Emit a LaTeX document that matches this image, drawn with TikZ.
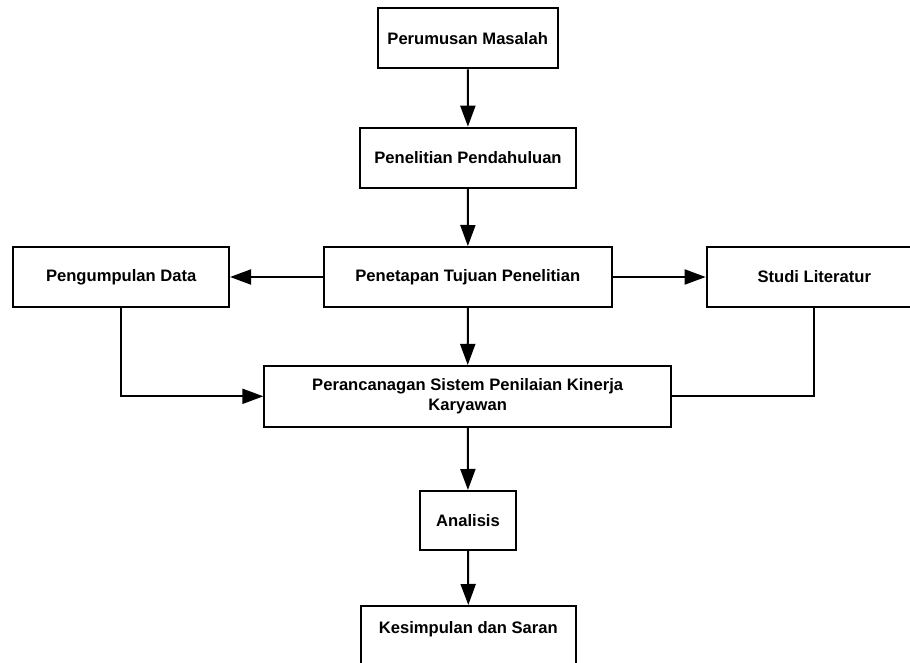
\documentclass[tikz,border=0pt]{standalone}
\usepackage{fontspec}
\setmainfont{Liberation Sans}
\usetikzlibrary{arrows.meta}

\begin{document}
\begin{tikzpicture}[x=1pt,y=-1pt,
			box/.style={draw,line width=2pt,minimum height=60pt,inner sep=0pt,
				font=\fontsize{16.6}{20}\selectfont\bfseries,align=center},
			line/.style={line width=2pt},
			arr/.style={line,-{Triangle[length=21pt,width=15pt]}}]
			\clip (0,0) rectangle (910,663);
			\node[box,minimum width=180pt] (masalah) at (467.7,38.3) {Perumusan Masalah};
			\node[box,minimum width=215.4pt] (pendahuluan) at (468,157.7) {Penelitian Pendahuluan};
			\node[box,minimum width=287.7pt] (tujuan) at (467.8,277) {Penetapan Tujuan Penelitian};
			\node[box,minimum width=215.7pt] (data) at (121.2,277) {Pengumpulan Data};
			\node[box,minimum width=215.3pt] (literatur) at (814.3,277) {Studi Literatur};
			\node[box,minimum width=406.7pt,minimum height=60.7pt] (sistem) at (467.7,396.3)
				{Perancanagan Sistem Penilaian Kinerja\\Karyawan};
			\node[box,minimum width=96pt,minimum height=59pt] (analisis) at (468,520.5) {Analisis};
			\node[box,minimum width=215.3pt,anchor=north,text height=27.7pt,text depth=32.3pt]
				(kesimpulan) at (468.3,605) {Kesimpulan dan Saran};
			\draw[arr] (masalah) -- (pendahuluan);
			\draw[arr] (pendahuluan) -- (tujuan);
			\draw[arr] (tujuan) -- (data);
			\draw[arr] (tujuan) -- (literatur);
			\draw[arr] (tujuan) -- (sistem);
			\draw[arr] (data.south) |- (sistem.west);
			\draw[line] (literatur.south) |- (sistem.east);
			\draw[arr] (sistem) -- (analisis);
			\draw[arr] (analisis.south) -- (kesimpulan.north);
			\end{tikzpicture}
\end{document}
